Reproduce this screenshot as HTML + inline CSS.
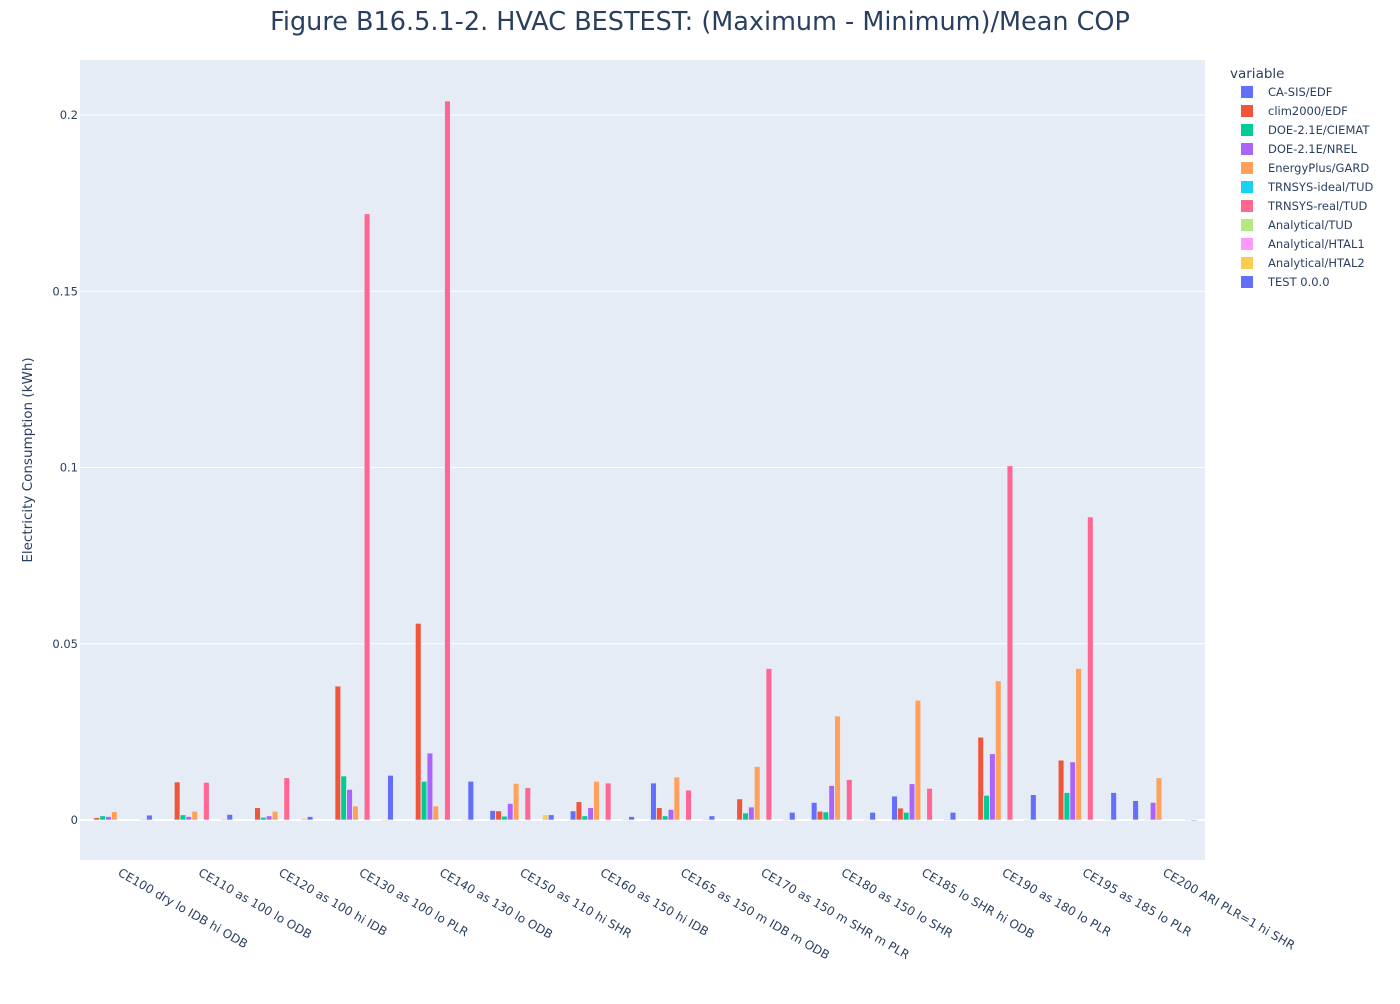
<!DOCTYPE html>
<html><head><meta charset="utf-8"><style>
body{margin:0;background:#fff;font-family:"DejaVu Sans",sans-serif}
svg text{font-family:"DejaVu Sans",sans-serif}
</style></head><body>
<svg id="c" width="1400" height="1000">
<rect x="0" y="0" width="1400" height="1000" fill="#fff"/>
<rect x="80" y="60" width="1125" height="800" fill="#e5ecf6"/>
<text x="700" y="30" text-anchor="middle" font-size="25.5" fill="#2a3f5f">Figure B16.5.1-2. HVAC BESTEST: (Maximum - Minimum)/Mean COP</text>
<text transform="translate(32,460) rotate(-90)" text-anchor="middle" font-size="13.5" fill="#2a3f5f">Electricity Consumption  (kWh)</text>
<g id="grid"></g><g id="bars"></g><g id="xt"></g><g id="leg"></g>
</svg>
<script>
const categories=["CE100 dry lo IDB hi ODB","CE110 as 100 lo ODB","CE120 as 100 hi IDB","CE130 as 100 lo PLR","CE140 as 130 lo ODB","CE150 as 110 hi SHR","CE160 as 150 hi IDB","CE165 as 150 m IDB m ODB","CE170 as 150 m SHR m PLR","CE180 as 150 lo SHR","CE185 lo SHR hi ODB","CE190 as 180 lo PLR","CE195 as 185 lo PLR","CE200 ARI  PLR=1 hi SHR"];
const seriesNames=["CA-SIS/EDF","clim2000/EDF","DOE-2.1E/CIEMAT","DOE-2.1E/NREL","EnergyPlus/GARD","TRNSYS-ideal/TUD","TRNSYS-real/TUD","Analytical/TUD","Analytical/HTAL1","Analytical/HTAL2","TEST 0.0.0"];
const colors=["#636efa","#EF553B","#00cc96","#ab63fa","#FFA15A","#19d3f3","#FF6692","#B6E880","#FF97FF","#FECB52","#636efa"];
const caSis=[null,null,null,null,null,0.0027,0.0026,0.0105,null,0.005,0.0068,null,null,0.0055];
const clim2000=[0.0007,0.0108,0.0035,0.038,0.0558,0.0026,0.0052,0.0035,0.006,0.0025,0.0034,0.0235,0.017,null];
const doeCiemat=[0.0012,0.0015,0.0008,0.0125,0.011,0.0011,0.0012,0.0012,0.002,0.0023,0.0022,0.007,0.0078,0.0001];
const doeNrel=[0.001,0.001,0.0012,0.0087,0.019,0.0047,0.0035,0.003,0.0037,0.0098,0.0103,0.0188,0.0165,0.005];
const energyPlus=[0.0024,0.0025,0.0025,0.004,0.004,0.0104,0.011,0.0122,0.0152,0.0295,0.034,0.0395,0.043,0.012];
const trnsysIdeal=[null,null,null,null,null,null,null,null,null,null,null,null,null,null];
const trnsysReal=[null,0.0107,0.012,0.172,0.204,0.0092,0.0105,0.0085,0.043,0.0115,0.009,0.1005,0.086,null];
const analTud=[null,null,null,null,null,null,null,null,null,null,null,null,null,null];
const analHtal1=[null,null,null,null,null,null,null,null,null,null,null,null,null,null];
const analHtal2=[0.0003,0.0003,0.0005,-0.0003,0.0002,0.0015,0.0003,0.0003,0.0003,0.0001,0.0003,-0.0002,0.0002,0.0002];
const test=[0.0014,0.0016,0.001,0.0127,0.011,0.0015,0.001,0.0012,0.0022,0.0022,0.0022,0.0072,0.0078,-0.0003];
const seriesValues=[caSis,clim2000,doeCiemat,doeNrel,energyPlus,trnsysIdeal,trnsysReal,analTud,analHtal1,analHtal2,test];
const yTicks=[0,0.05,0.1,0.15,0.2];
const yTickLabels=["0","0.05","0.1","0.15","0.2"];
const NS="http://www.w3.org/2000/svg";
const PX=80,PW=1125;
function y(v){return 820-v*3525;}
const catW=PW/categories.length, grpW=catW*0.8, barW=grpW/seriesNames.length;
function x(ci,si){return PX+ci*catW+(catW-grpW)/2+si*barW;}
function mk(tag,attrs,parent){const e=document.createElementNS(NS,tag);for(const k in attrs)e.setAttribute(k,attrs[k]);parent.appendChild(e);return e;}
const grid=document.getElementById('grid');
yTicks.forEach((t,i)=>{
  const l=mk('line',{x1:PX,x2:PX+PW,y1:y(t),y2:y(t),stroke:'#fff','stroke-width':t===0?2:1},grid);
  
  
  const tx=mk('text',{x:78,y:y(t)+4,'text-anchor':'end','font-size':11.5,fill:'#2a3f5f'},grid);
  tx.textContent=yTickLabels[i];
  
  
});
const bars=document.getElementById('bars');
seriesValues.forEach((arr,si)=>{
  arr.forEach((v,ci)=>{
    if(v===null)return;
    const y0=y(0),y1=y(v);
    const r=mk('rect',{x:x(ci,si),y:Math.min(y0,y1),width:barW,height:Math.max(Math.abs(y0-y1),0.5),fill:colors[si],stroke:'#e5ecf6','stroke-width':0.8},bars);
    
    
  });
});
const xt=document.getElementById('xt');
categories.forEach((c,ci)=>{
  const cx=PX+ci*catW+catW/2;
  const t=mk('text',{transform:`translate(${cx-3},${875}) rotate(30)`,'font-size':12,fill:'#2a3f5f'},xt);
  t.textContent=c;
  
  
});
const leg=document.getElementById('leg');
const lt=mk('text',{x:1230,y:78,'font-size':13.5,fill:'#2a3f5f'},leg);
lt.textContent='variable';


seriesNames.forEach((n,i)=>{
  const g=mk('g',{},leg);
  
  
  const yy=92+i*19;
  mk('rect',{x:1241,y:yy-6,width:12,height:12,fill:colors[i]},g);
  const t=mk('text',{x:1268,y:yy+4,'font-size':11.5,fill:'#2a3f5f'},g);
  t.textContent=n;
});
</script>
</body></html>
